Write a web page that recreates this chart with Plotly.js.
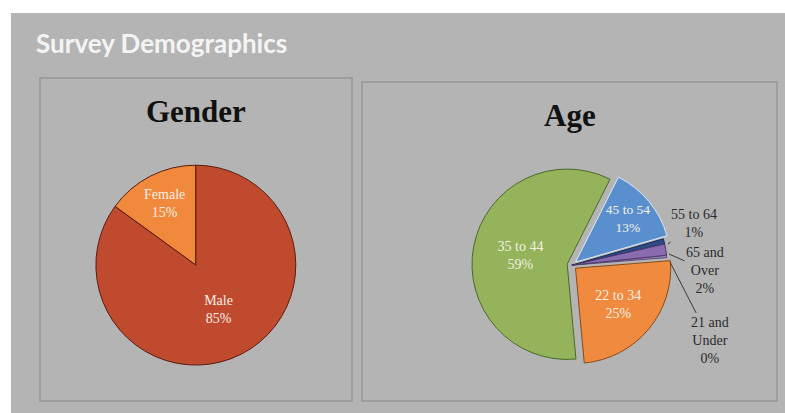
<!DOCTYPE html>
<html>
<head>
<meta charset="utf-8">
<script src="https://cdn.plot.ly/plotly-3.0.1.min.js"></script>
<style>
html,body{margin:0;padding:0;background:#ffffff;}
#chart{width:785px;height:413px;}
</style>
</head>
<body>
<div id="chart"></div>
<script>
// Gender data
var genderLabels = ["Female", "Male"];
var genderValues = [15, 85];
var genderColors = ["#f0893c", "#c04a2e"];

// Age data (Excel order)
var ageLabels = ["21 and Under", "22 to 34", "35 to 44", "45 to 54", "55 to 64", "65 and Over"];
var ageDisplay = ["21 and<br>Under", "22 to 34", "35 to 44", "45 to 54", "55 to 64", "65 and<br>Over"];
var ageValues = [0.4, 24.8, 58.9, 13.1, 0.9, 1.9];
var ageColors = ["#9a7fc0", "#ef8a3e", "#94b35a", "#5a8fce", "#2d4a86", "#8a6bb0"];
var ageLines = ["#5a4a70", "#8a4a1a", "#4a6a2a", "#dfe8f5", "#1a2a50", "#4a3a6a"];
var agePull = [0, 0.05, 0.05, 0.05, 0, 0];
var agePos = ["none", "inside", "inside", "inside", "none", "none"];

var serif = "Liberation Serif, DejaVu Serif, serif";
var W = 785, H = 413;
function px(x) { return x / W; }
function py(y) { return 1 - y / H; }

var genderTotal = genderValues.reduce(function (a, b) { return a + b; }, 0);
var ageTotal = ageValues.reduce(function (a, b) { return a + b; }, 0);
function agePct(i) { return Math.round(ageValues[i] / ageTotal * 100) + "%"; }

var traces = [
  {
    type: "pie",
    labels: genderLabels,
    values: genderValues,
    sort: false,
    direction: "clockwise",
    rotation: -360 * genderValues[0] / genderTotal,
    marker: {colors: genderColors, line: {color: "#5a1c10", width: 1}},
    texttemplate: "%{label}<br>%{percent:.0%}",
    textposition: "inside",
    insidetextorientation: "horizontal",
    insidetextfont: {family: serif, size: 14, color: "#f7efe6"},
    domain: {x: [0.122, 0.377], y: [0.116, 0.6]},
    showlegend: false,
    hoverinfo: "label+percent"
  },
  {
    type: "pie",
    labels: ageLabels,
    text: ageDisplay,
    values: ageValues,
    sort: false,
    direction: "clockwise",
    rotation: 84,
    pull: agePull,
    marker: {colors: ageColors, line: {color: ageLines, width: 1}},
    texttemplate: "%{text}<br>%{percent:.0%}",
    textposition: agePos,
    insidetextorientation: "horizontal",
    insidetextfont: {family: serif, size: 14, color: "#f4f0e6"},
    domain: {x: [0.601, 0.856], y: [0.116, 0.6]},
    showlegend: false,
    hoverinfo: "label+percent"
  }
];

// outside labels for the thin Age slices (text from the data arrays)
var outsideLabels = [
  {i: 4, tip: [668, 244], txt: [694, 224]},
  {i: 5, tip: [669, 254], txt: [705, 270]},
  {i: 0, tip: [670, 262], txt: [710, 340]}
];

var annotations = [
  {text: "<b>Survey Demographics</b>", xref: "paper", yref: "paper", x: px(34), y: py(43),
   xanchor: "left", yanchor: "middle", showarrow: false,
   font: {family: "Lato, Open Sans, sans-serif", size: 26, color: "#f4f4f4"}},
  {text: "<b>Gender</b>", xref: "paper", yref: "paper", x: px(196), y: py(112),
   xanchor: "center", yanchor: "middle", showarrow: false,
   font: {family: serif, size: 31, color: "#111111"}},
  {text: "<b>Age</b>", xref: "paper", yref: "paper", x: px(570), y: py(115),
   xanchor: "center", yanchor: "middle", showarrow: false,
   font: {family: serif, size: 31, color: "#111111"}}
];
outsideLabels.forEach(function (o) {
  annotations.push({
    text: ageDisplay[o.i] + "<br>" + agePct(o.i),
    xref: "paper", yref: "paper",
    x: px(o.tip[0]), y: py(o.tip[1]),
    ax: o.txt[0] - o.tip[0], ay: o.txt[1] - o.tip[1],
    showarrow: true, arrowhead: 0, arrowwidth: 1, arrowcolor: "#3a3a3a",
    font: {family: serif, size: 14, color: "#2a2a2a"}
  });
});

var layout = {
  width: W,
  height: H,
  margin: {l: 0, r: 0, t: 0, b: 0},
  paper_bgcolor: "#ffffff",
  showlegend: false,
  shapes: [
    {type: "rect", xref: "paper", yref: "paper", x0: px(11), x1: 1, y0: 0, y1: py(13),
     fillcolor: "#b4b4b4", line: {width: 0}, layer: "below"},
    {type: "rect", xref: "paper", yref: "paper", x0: px(40), x1: px(352), y0: py(401), y1: py(78),
     fillcolor: "rgba(0,0,0,0)", line: {color: "#979797", width: 1.5}, layer: "below"},
    {type: "rect", xref: "paper", yref: "paper", x0: px(362), x1: px(777), y0: py(401), y1: py(82),
     fillcolor: "rgba(0,0,0,0)", line: {color: "#979797", width: 1.5}, layer: "below"}
  ],
  annotations: annotations
};

Plotly.newPlot("chart", traces, layout, {staticPlot: true, displayModeBar: false});
</script>
</body>
</html>
